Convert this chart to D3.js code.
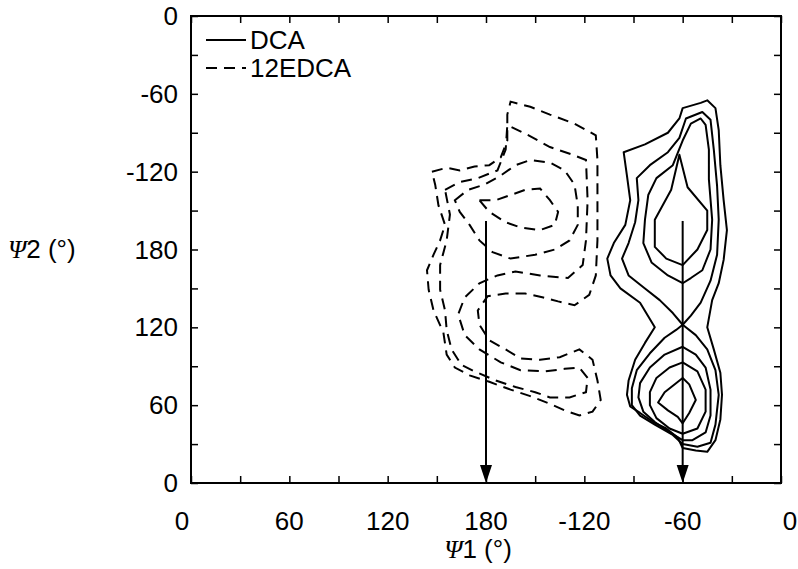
<!DOCTYPE html>
<html>
<head>
<meta charset="utf-8">
<script src="https://cdn.jsdelivr.net/npm/d3@7"></script>
<style>
  body { margin: 0; background: #fff; }
  svg { display: block; }
  text { font-family: "Liberation Sans", Arial, Helvetica, sans-serif; fill: #000; }
</style>
</head>
<body>
<svg width="798" height="569"></svg>
<script>
// torsion angles in degrees, 0..360 (labels show -120 / -60 for 240 / 300)
const tickValues = d3.range(0, 361, 30);
const labelValues = [0, 60, 120, 180, 240, 300, 360];
const tickLabels = ["0", "60", "120", "180", "-120", "-60", "0"];

// arrows marking the two starting conformations
const arrowPsi1 = [180, 300];
const arrowTop = 202;

// DCA contours (solid), [psi1, psi2]
const dcaR1 = [[264,255],[277,261],[291,270],[298,281],[300,289],[311,293],[315,295],[320,289],[322,272],[323,245],[325,218],[327,195],[325,172],[322,154],[318,141],[315,120],[319,103],[323,85],[324,68],[323,49],[320,33],[315,24],[308,25],[300,27],[297,35],[290,42],[282,47],[274,54],[268,59],[266,68],[267,79],[271,95],[277,108],[283,120],[274,139],[262,150],[256,160],[254,173],[258,185],[265,199],[268,218],[266,237]];
const dcaR2 = [[300,122],[294,131],[286,141],[277,150],[267,160],[263,173],[267,185],[271,201],[273,218],[272,235],[280,245],[291,255],[298,266],[302,281],[312,286],[317,280],[319,257],[321,229],[322,203],[321,176],[317,156],[311,139],[305,129],[300,122],[308,114],[315,103],[320,87],[322,68],[320,45],[317,31],[309,28],[300,30],[294,37],[283,45],[274,52],[269,60],[269,73],[272,87],[280,100],[289,112],[296,118]];
const dcaU2 = [[300,154],[291,160],[281,170],[276,185],[277,203],[279,222],[284,235],[294,245],[300,264],[305,277],[311,281],[314,276],[316,257],[316,234],[318,203],[317,180],[312,164],[305,158]];
const dcaU1 = [[298,253],[303,228],[315,210],[315,195],[309,180],[300,168],[290,173],[283,182],[283,203],[293,226]];
const dcaL3 = [[300,105],[308,99],[314,89],[317,72],[317,52],[314,39],[306,33],[300,33],[292,39],[283,47],[276,55],[273,66],[274,77],[280,89],[289,99]];
const dcaL2 = [[300,93],[309,86],[314,72],[314,55],[309,42],[300,38],[292,42],[284,50],[280,60],[280,70],[284,81],[292,89]];
const dcaL1 = [[300,81],[304,76],[308,64],[304,54],[300,46],[297,51],[291,56],[285,62],[289,70],[295,76]];
const dcaContours = [dcaR1, dcaR2, dcaU2, dcaU1, dcaL3, dcaL2, dcaL1];

// 12EDCA contours (dashed)
const edcaE1 = [[147,240],[156,243],[164,241],[173,244],[182,245],[189,251],[193,264],[193,284],[195,294],[207,290],[219,284],[234,277],[247,268],[248,249],[248,218],[248,187],[247,160],[243,145],[234,137],[224,140],[215,143],[204,146],[192,146],[181,144],[175,133],[176,122],[182,110],[192,103],[201,96],[213,95],[225,97],[237,103],[245,95],[248,79],[250,64],[245,55],[237,52],[228,56],[219,61],[207,67],[195,72],[182,78],[170,83],[161,89],[156,99],[154,116],[148,133],[145,149],[144,164],[148,176],[152,187],[155,199],[151,214],[149,230]];
const edcaE2 = [[155,226],[164,232],[175,235],[187,241],[192,257],[193,276],[206,268],[219,259],[233,253],[241,249],[242,218],[241,187],[239,168],[230,158],[213,160],[198,163],[187,160],[176,154],[167,143],[163,130],[167,114],[176,103],[189,93],[201,87],[216,86],[228,88],[237,89],[242,81],[241,70],[231,66],[219,66],[210,70],[198,74],[186,79],[173,86],[165,91],[159,103],[156,118],[155,133],[152,149],[152,168],[156,187],[158,207]];
const edcaE3 = [[161,218],[169,226],[179,230],[189,237],[198,245],[207,249],[219,247],[228,241],[234,230],[236,214],[236,199],[231,187],[222,180],[210,176],[195,173],[184,178],[176,187],[170,199],[164,209]];
const edcaE4 = [[176,218],[186,218],[195,222],[204,226],[213,227],[219,218],[224,209],[222,199],[213,195],[201,197],[192,201],[182,209]];
const edcaContours = [edcaE1, edcaE2, edcaE3, edcaE4];

const legendNames = ["DCA", "12EDCA"];

const svg = d3.select("svg");
const x = d3.scaleLinear().domain([0, 360]).range([191, 781]);
const y = d3.scaleLinear().domain([0, 360]).range([483, 16]);

const ring = d3.line()
  .x(d => x(d[0]))
  .y(d => y(d[1]))
  .curve(d3.curveLinearClosed);

// contours
svg.append("g").selectAll("path")
  .data(dcaContours)
  .join("path")
  .attr("d", ring)
  .attr("fill", "none")
  .attr("stroke", "#000")
  .attr("stroke-width", 2)
  .attr("stroke-linejoin", "round");

svg.append("g").selectAll("path")
  .data(edcaContours)
  .join("path")
  .attr("d", ring)
  .attr("fill", "none")
  .attr("stroke", "#000")
  .attr("stroke-width", 2)
  .attr("stroke-dasharray", "11,7");

// arrows
const arrows = svg.append("g");
arrowPsi1.forEach(p => {
  arrows.append("line")
    .attr("x1", x(p)).attr("x2", x(p))
    .attr("y1", y(arrowTop)).attr("y2", y(0) - 14)
    .attr("stroke", "#000").attr("stroke-width", 2);
  arrows.append("path")
    .attr("d", `M${x(p) - 6},${y(0) - 18} L${x(p) + 6},${y(0) - 18} L${x(p)},${y(0)} Z`)
    .attr("fill", "#000");
});

// axes: ticks on all four sides, pointing inwards
const tickLen = 7;
svg.append("g")
  .attr("transform", `translate(0,${y(0)})`)
  .call(d3.axisTop(x).tickValues(tickValues).tickSize(tickLen).tickFormat(""));
svg.append("g")
  .attr("transform", `translate(0,${y(360)})`)
  .call(d3.axisBottom(x).tickValues(tickValues).tickSize(tickLen).tickFormat(""));
svg.append("g")
  .attr("transform", `translate(${x(0)},0)`)
  .call(d3.axisRight(y).tickValues(tickValues).tickSize(tickLen).tickFormat(""));
svg.append("g")
  .attr("transform", `translate(${x(360)},0)`)
  .call(d3.axisLeft(y).tickValues(tickValues).tickSize(tickLen).tickFormat(""));
svg.selectAll(".domain").remove();
svg.selectAll(".tick line").attr("stroke", "#000").attr("stroke-width", 1.5);

svg.append("rect")
  .attr("x", x(0)).attr("y", y(360))
  .attr("width", x(360) - x(0)).attr("height", y(0) - y(360))
  .attr("fill", "none").attr("stroke", "#000").attr("stroke-width", 2);

// tick labels
svg.append("g").selectAll("text")
  .data(labelValues)
  .join("text")
  .attr("x", (d, i) => x(d) + (i === 0 ? -9 : i === labelValues.length - 1 ? 9 : 0))
  .attr("y", 530)
  .attr("text-anchor", "middle")
  .attr("font-size", 26)
  .text((d, i) => tickLabels[i]);

svg.append("g").selectAll("text")
  .data(labelValues)
  .join("text")
  .attr("x", 178)
  .attr("y", d => y(d) + 9)
  .attr("text-anchor", "end")
  .attr("font-size", 26)
  .text((d, i) => tickLabels[i]);

// axis titles
const psi = "\u03A8";
const xt = svg.append("text").attr("x", 478).attr("y", 558).attr("text-anchor", "middle").attr("font-size", 26);
xt.append("tspan").attr("font-family", "'Liberation Serif', 'DejaVu Serif', serif").attr("font-style", "italic").text(psi);
xt.append("tspan").text("1 (\u00B0)");
const yt = svg.append("text").attr("x", 8).attr("y", 258).attr("font-size", 26);
yt.append("tspan").attr("font-family", "'Liberation Serif', 'DejaVu Serif', serif").attr("font-style", "italic").text(psi);
yt.append("tspan").text("2 (\u00B0)");

// legend
const legend = svg.append("g");
legendNames.forEach((name, i) => {
  const ly = 40 + i * 28;
  legend.append("line")
    .attr("x1", 206).attr("x2", 246).attr("y1", ly).attr("y2", ly)
    .attr("stroke", "#000").attr("stroke-width", 2)
    .attr("stroke-dasharray", i === 0 ? null : "11,7");
  legend.append("text")
    .attr("x", 250).attr("y", ly + 9)
    .attr("font-size", 26)
    .text(name);
});
</script>
</body>
</html>
